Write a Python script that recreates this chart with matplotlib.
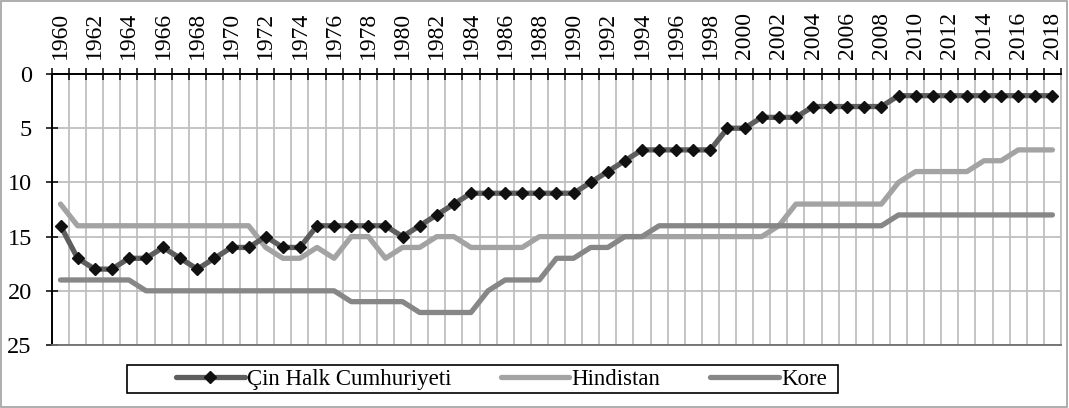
import matplotlib
matplotlib.use('Agg')
import matplotlib.pyplot as plt
from matplotlib.patches import Rectangle
import numpy as np

# ── Veriler ──────────────────────────────────────────────────────────────────
years = list(range(1960, 2019))

cin = [14, 17, 18, 18, 17, 17, 16, 17, 18, 17,   # 1960-1969
       16, 16, 15, 16, 16, 14, 14, 14, 14, 14,   # 1970-1979
       15, 14, 13, 12, 11, 11, 11, 11, 11, 11,   # 1980-1989
       11, 10, 9, 8, 7, 7, 7, 7, 7, 5,           # 1990-1999
       5, 4, 4, 4, 3, 3, 3, 3, 3, 2,             # 2000-2009
       2, 2, 2, 2, 2, 2, 2, 2, 2]                # 2010-2018

hindistan = [12, 14, 14, 14, 14, 14, 14, 14, 14, 14,
             14, 14, 16, 17, 17, 16, 17, 15, 15, 17,
             16, 16, 15, 15, 16, 16, 16, 16, 15, 15,
             15, 15, 15, 15, 15, 15, 15, 15, 15, 15,
             15, 15, 14, 12, 12, 12, 12, 12, 12, 10,
             9, 9, 9, 9, 8, 8, 7, 7, 7]

kore = [19, 19, 19, 19, 19, 20, 20, 20, 20, 20,
        20, 20, 20, 20, 20, 20, 20, 21, 21, 21,
        21, 22, 22, 22, 22, 20, 19, 19, 19, 17,
        17, 16, 16, 15, 15, 14, 14, 14, 14, 14,
        14, 14, 14, 14, 14, 14, 14, 14, 14, 13,
        13, 13, 13, 13, 13, 13, 13, 13, 13]

series_names = ["Çin Halk Cumhuriyeti", "Hindistan", "Kore"]

# ── Stil ─────────────────────────────────────────────────────────────────────
plt.rcParams['font.family'] = ['Liberation Serif', 'DejaVu Serif']
GRID = "#BFBFBF"
C_CIN = "#5E5E5E"
C_HIN = "#A3A3A3"
C_KOR = "#878787"

fig = plt.figure(figsize=(10.69, 4.08), dpi=100)
# dış çerçeve
fig.patches.append(Rectangle((0.001, 0.003), 0.997, 0.994, transform=fig.transFigure,
                             fill=False, edgecolor="#A0A0A0", linewidth=1.2))

ax = fig.add_axes([0.0486, 0.1544, 0.9439, 0.6642])
x = np.arange(len(years))

ax.plot(x, hindistan, color=C_HIN, lw=3.8, solid_capstyle='round',
        label=series_names[1], zorder=3)
ax.plot(x, kore, color=C_KOR, lw=3.8, solid_capstyle='round',
        label=series_names[2], zorder=3)
ax.plot(x, cin, color=C_CIN, lw=3.8, solid_capstyle='round',
        marker='D', markersize=6, markerfacecolor='#111111',
        markeredgecolor='#111111', label=series_names[0], zorder=4)

ax.set_xlim(-0.5, len(years) - 0.5)
ax.set_ylim(25, 0)
ax.set_yticks(range(0, 26, 5))

# kategori sınırları: tik işaretleri + dikey ızgara
ax.set_xticks(np.arange(-0.5, len(years), 1.0), minor=True)
ax.set_xticks(x[::2])
ax.set_xticklabels([str(y) for y in years[::2]], rotation=90)
ax.xaxis.tick_top()
ax.tick_params(axis='x', which='major', length=0, pad=11, labelsize=17)
ax.tick_params(axis='x', which='minor', direction='inout', length=8,
               width=1.1, color='black', top=True, bottom=False)
ax.tick_params(axis='y', which='major', direction='inout', length=9,
               width=1.1, pad=10, labelsize=17.5)

ax.grid(True, which='minor', axis='x', color=GRID, lw=1.3, zorder=1)
ax.grid(True, which='major', axis='y', color=GRID, lw=1.3, zorder=1)
ax.set_axisbelow(True)

for s in ['left', 'top']:
    ax.spines[s].set_color('black')
    ax.spines[s].set_linewidth(1.4)
ax.spines['bottom'].set_color('#6E6E6E')
ax.spines['bottom'].set_linewidth(1.3)
ax.spines['right'].set_color(GRID)
ax.spines['right'].set_linewidth(1.3)

# lejant: girişler + ayrı çizilmiş kutu
h, l = ax.get_legend_handles_labels()
order = [2, 0, 1]
leg = fig.legend([h[i] for i in order], [l[i] for i in order],
                 loc='center', bbox_to_anchor=(0.469, 0.071), ncol=3,
                 fontsize=16.5, frameon=False,
                 handlelength=3.0, handletextpad=0.1, columnspacing=2.15,
                 borderpad=0.12, borderaxespad=0)
fig.patches.append(Rectangle((127 / 1069, 1 - 393 / 408), (838 - 127) / 1069, 28 / 408,
                             transform=fig.transFigure, fill=False,
                             edgecolor='black', linewidth=1.2))

fig.savefig("out.png", dpi=100)
